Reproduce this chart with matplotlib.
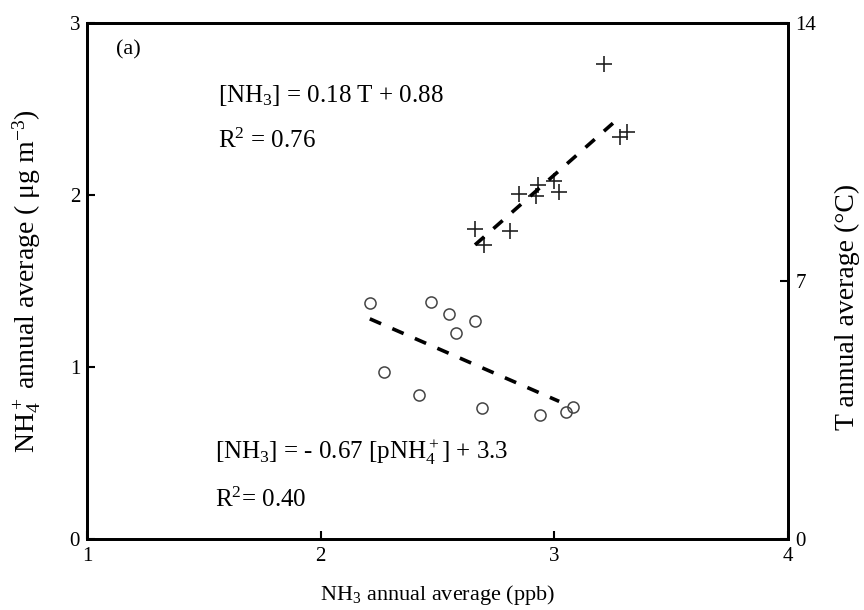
import matplotlib
matplotlib.use("Agg")
import matplotlib.pyplot as plt

plt.rcParams['font.family'] = ['Liberation Serif', 'DejaVu Serif']
plt.rcParams['mathtext.fontset'] = 'custom'
plt.rcParams['mathtext.rm'] = 'Liberation Serif'
plt.rcParams['mathtext.it'] = 'Liberation Serif:italic'

######## data

# NH4+ (left axis) vs NH3
nh3_a = [2.21, 2.47, 2.55, 2.66, 2.58, 2.27, 2.42, 2.69, 2.94, 3.05, 3.08]
nh4 = [1.37, 1.38, 1.31, 1.27, 1.20, 0.97, 0.84, 0.76, 0.72, 0.74, 0.77]
fit_nh4_x = [2.21, 3.02]
fit_nh4_y = [1.28, 0.80]

# temperature (right axis) vs NH3
nh3_b = [3.21, 3.31, 3.28, 2.85, 2.93, 2.92, 3.00, 3.02, 2.66, 2.81, 2.70]
temp = [12.9, 11.05, 10.9, 9.35, 9.6, 9.3, 9.7, 9.42, 8.4, 8.36, 7.98]
fit_t_x = [2.66, 3.25]
fit_t_y = [7.98, 11.28]

######## figure

fig = plt.figure(figsize=(8.64, 6.10), dpi=100)
ax = fig.add_axes([0.1007, 0.1164, 0.8116, 0.8459])
ax2 = ax.twinx()

ax.plot(nh3_a, nh4, 'o', ms=8, mfc='none', mec='#444444', mew=1.1)
ax.plot(fit_nh4_x, fit_nh4_y, color='black', lw=2.6, dashes=(3.4, 3.4))

ax2.plot(nh3_b, temp, '+', ms=12, color='#222222', mew=1.2)
ax2.plot(fit_t_x, fit_t_y, color='black', lw=2.6, dashes=(3.4, 3.4))

ax.set_xlim(1, 4)
ax.set_ylim(0, 3)
ax2.set_ylim(0, 14)
ax.set_xticks([1, 2, 3, 4])
ax.set_yticks([0, 1, 2, 3])
ax2.set_yticks([0, 7, 14])

for a in (ax, ax2):
    for s in a.spines.values():
        s.set_linewidth(2)
    a.tick_params(direction='in', length=6, width=1.5, labelsize=15, pad=5)
ax.tick_params(axis='x', pad=6)

ax.set_xlabel('NH$_3$ annual average (ppb)', fontsize=16, labelpad=12)
ax.set_ylabel('NH$_4^+$ annual average ( \u03bcg m$^{-3}$)', fontsize=20)
ax.yaxis.set_label_coords(-0.063, 0.5)
ax2.set_ylabel('T annual average (\u00b0C)', fontsize=20)
ax2.yaxis.set_label_coords(1.066, 0.45)

ax.text(0.041, 0.948, '(a)', transform=ax.transAxes, fontsize=16, va='center')
ax.text(0.187, 0.847, '[NH$_3$] = 0.18 T + 0.88', transform=ax.transAxes,
        fontsize=18, va='baseline')
ax.text(0.187, 0.758, 'R$^2$ = 0.76', transform=ax.transAxes,
        fontsize=18, va='baseline')
ax.text(0.183, 0.156, '[NH$_3$] = - 0.67 [pNH$_4^+$] + 3.3', transform=ax.transAxes,
        fontsize=18, va='baseline')
ax.text(0.183, 0.062, 'R$^2$= 0.40', transform=ax.transAxes,
        fontsize=18, va='baseline')

plt.savefig('out.png', dpi=100)
